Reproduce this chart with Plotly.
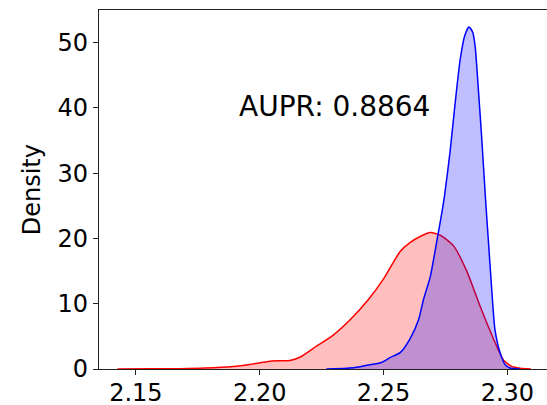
import plotly.graph_objects as go

# Red distribution (KDE)
red_x = [2.1425, 2.155, 2.168, 2.178, 2.1893, 2.196, 2.2028, 2.2068, 2.2122, 2.2162,
         2.2229, 2.2297, 2.2364, 2.2438, 2.25, 2.2567, 2.2608, 2.2648, 2.2689, 2.2729,
         2.2782, 2.2836, 2.289, 2.2944, 2.2984, 2.3018, 2.3051, 2.3095]
red_y = [0.0, 0.02, 0.05, 0.15, 0.4, 0.7, 1.1, 1.25, 1.3, 1.8,
         3.5, 5.2, 7.5, 10.6, 13.8, 18.0, 19.4, 20.3, 20.9, 20.5,
         18.9, 15.0, 9.6, 4.6, 1.4, 0.4, 0.12, 0.0]

# Blue distribution
blue_x = [2.2269, 2.235, 2.2405, 2.2445, 2.2492, 2.2526, 2.2567, 2.2608, 2.2641, 2.2661,
          2.2689, 2.2716, 2.2728, 2.2746, 2.2768, 2.2789, 2.2809, 2.2828, 2.2845, 2.2860,
          2.2870, 2.2882, 2.2896, 2.2911, 2.2923, 2.2937, 2.2950, 2.2971, 2.2991, 2.3011, 2.305]
blue_y = [0.0, 0.1, 0.35, 0.66, 1.0, 1.75, 2.5, 4.7, 7.5, 10.6,
          14.2, 19.8, 22.3, 26.5, 33.1, 40.7, 47.3, 51.1, 52.4, 51.6,
          49.4, 43.3, 35.6, 26.5, 19.8, 12.1, 6.0, 2.45, 0.66, 0.15, 0.0]

x_ticks = [2.15, 2.20, 2.25, 2.30]
x_tick_text = ["2.15", "2.20", "2.25", "2.30"]
y_ticks = [0, 10, 20, 30, 40, 50]
annotation_text = "AUPR: 0.8864"
y_title = "Density"

FONT = "DejaVu Sans"
TICKFONT = dict(family=FONT, size=24, color="black")

fig = go.Figure()
fig.add_trace(go.Scatter(x=red_x, y=red_y, mode="lines", fill="tozeroy",
                         fillcolor="rgba(255,0,0,0.25)",
                         line=dict(color="red", width=1.5, shape="spline", smoothing=0.6),
                         showlegend=False, hoverinfo="skip"))
fig.add_trace(go.Scatter(x=blue_x, y=blue_y, mode="lines", fill="tozeroy",
                         fillcolor="rgba(0,0,255,0.25)",
                         line=dict(color="blue", width=1.5, shape="spline", smoothing=0.6),
                         showlegend=False, hoverinfo="skip"))

fig.add_annotation(x=2.23, y=40.2, xref="x", yref="y", text=annotation_text,
                   showarrow=False, xanchor="center", yanchor="middle",
                   font=dict(family=FONT, size=28, color="black"))
fig.add_annotation(x=-0.15, y=0.5, xref="paper", yref="paper", text=y_title,
                   showarrow=False, textangle=-90, xanchor="center", yanchor="middle",
                   font=dict(family=FONT, size=24, color="black"))

fig.update_layout(
    width=547, height=405,
    margin=dict(l=99, r=0, t=10, b=36, autoexpand=False),
    paper_bgcolor="white", plot_bgcolor="white",
    font=dict(family=FONT, size=24, color="black"),
    xaxis=dict(range=[2.1351, 2.3160], tickvals=x_ticks, ticktext=x_tick_text,
               tickfont=TICKFONT, automargin=False, ticklabelstandoff=-3,
               showgrid=False, zeroline=False, showline=True, mirror=True,
               linecolor="#222", linewidth=1.2, ticks="outside", ticklen=5,
               tickwidth=1.2, tickcolor="#222"),
    yaxis=dict(range=[0, 55.0], tickvals=y_ticks, tickfont=TICKFONT, automargin=False,
               showgrid=False, zeroline=False,
               showline=True, linecolor="#222", linewidth=1.2, ticks="outside",
               ticklen=5, tickwidth=1.2, tickcolor="#222"),
)

fig.write_html("out.html", config={"displayModeBar": False},
               post_script="document.body.style.margin='0';document.body.style.padding='0';")
